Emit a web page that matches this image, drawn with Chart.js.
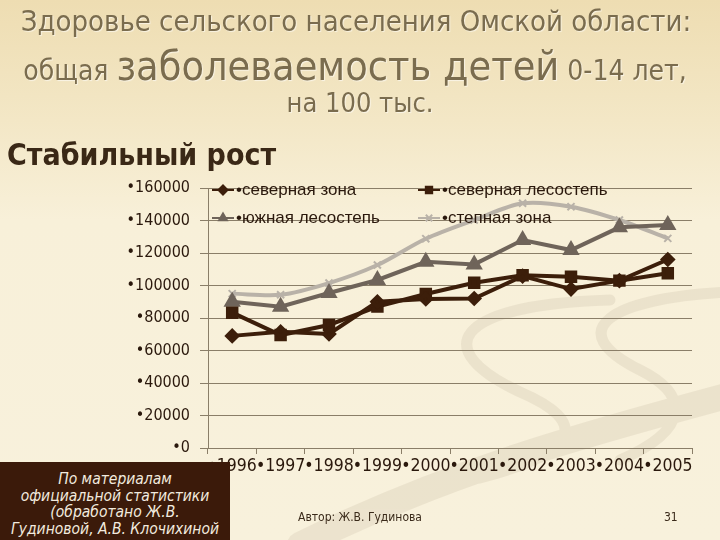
<!DOCTYPE html>
<html>
<head>
<meta charset="utf-8">
<script src="https://cdn.jsdelivr.net/npm/chart.js@4.4.1/dist/chart.umd.min.js"></script>
<style>
  html, body { margin:0; padding:0; }
  body { width:720px; height:540px; position:relative; overflow:hidden;
         background: linear-gradient(180deg, #EEDDB2 0px, #F3E7C6 120px, #F8F0D9 220px, #F8F1DC 540px); }
  #bg { position:absolute; left:0; top:0; }
  #c { position:absolute; left:0; top:0; }
  .t { position:absolute; white-space:nowrap; font-family:"DejaVu Sans Condensed","DejaVu Sans",sans-serif; color:#7A6C4E; text-shadow:1px 1px 1px rgba(255,255,255,0.6); }
  #l1 { left:0; top:4px; font-size:29px; width:712px; text-align:center; }
  #l2 { left:0; top:42px; width:710px; text-align:center; font-size:28px; }
  #l2 .big { font-size:41px; }
  #l3 { left:0; top:87px; width:720px; text-align:center; font-size:27px; }
  #sub { position:absolute; left:7px; top:137px; font-family:"DejaVu Sans Condensed","DejaVu Sans",sans-serif; font-weight:bold; font-size:30px; color:#3A2816; white-space:nowrap; }
  #box { position:absolute; left:0; top:462px; width:230px; height:78px; background:#3B1A0A; color:#F2EADF;
         font-family:"DejaVu Sans Condensed","DejaVu Sans",sans-serif; font-style:italic; font-size:15.5px; line-height:16.5px; text-align:center; padding-top:9px; box-sizing:border-box; }
  #author { position:absolute; left:298px; top:510px; font-family:"DejaVu Sans Condensed","DejaVu Sans",sans-serif; font-size:12px; color:#3A2A1A; }
  #num { position:absolute; left:664px; top:510px; font-family:"DejaVu Sans Condensed","DejaVu Sans",sans-serif; font-size:12px; color:#3A2A1A; }
</style>
</head>
<body>
<svg id="bg" width="720" height="540" xmlns="http://www.w3.org/2000/svg">
  <g fill="none" stroke="#DDD3BC" stroke-linecap="round" opacity="0.45">
    <path d="M 300 545 C 450 470, 600 430, 730 395" stroke-width="26"/>
    <path d="M 610 300 C 450 305, 430 350, 520 392 C 590 422, 580 452, 480 478" stroke-width="11"/>
    <path d="M 730 292 C 610 298, 560 330, 640 370 C 690 395, 690 430, 620 460" stroke-width="11"/>
  </g>
</svg>
<canvas id="c" width="720" height="540"></canvas>
<div class="t" id="l1">Здоровье сельского населения Омской области:</div>
<div class="t" id="l2">общая <span class="big">заболеваемость детей</span> 0-14 лет,</div>
<div class="t" id="l3">на 100 тыс.</div>
<div id="sub">Стабильный рост</div>
<div id="box">По материалам<br>официальной статистики<br>(обработано Ж.В.<br>Гудиновой, А.В. Клочихиной</div>
<div id="author">Автор: Ж.В. Гудинова</div>
<div id="num">31</div>
<script>
const years = ['1996','1997','1998','1999','2000','2001','2002','2003','2004','2005'];
const seriesNames = ['•северная зона','•северная лесостепь','•южная лесостепь','•степная зона'];
const northZone = [69000, 71500, 70200, 90000, 91700, 92000, 105800, 97800, 103000, 116000];
const northForestSteppe = [83300, 69500, 75700, 87000, 94800, 101700, 106300, 105400, 103000, 107500];
const southForestSteppe = [90000, 87000, 95400, 103400, 114600, 113000, 128000, 121800, 135800, 137200];
const steppeZone = [95000, 94300, 101500, 112600, 128800, 140300, 150600, 148500, 140300, 129000];
const yTicks = [0, 20000, 40000, 60000, 80000, 100000, 120000, 140000, 160000];

const dark = '#3C1E0A', mid = '#6F645A', light = '#B9B2A8';

const legendPlugin = {
  id: 'customLegend',
  afterDraw(chart) {
    const ctx = chart.ctx;
    const pos = [[212, 190], [418, 190], [212, 218], [418, 218]];
    chart.data.datasets.forEach((ds, i) => {
      const [x, y] = pos[i];
      ctx.save();
      ctx.strokeStyle = ds.borderColor; ctx.lineWidth = 2;
      ctx.beginPath(); ctx.moveTo(x, y); ctx.lineTo(x + 22, y); ctx.stroke();
      ctx.fillStyle = ds.pointBackgroundColor; ctx.strokeStyle = ds.borderColor; ctx.lineWidth = 2;
      Chart.helpers.drawPoint(ctx, {pointStyle: ds.pointStyle, radius: 4.5, borderWidth: 2, rotation: 0}, x + 11, y);
      ctx.fillStyle = '#2A180C';
      ctx.font = '17px "Liberation Sans", Arial, sans-serif';
      ctx.textBaseline = 'middle';
      ctx.fillText(seriesNames[i], x + 24, y);
      ctx.restore();
    });
  }
};

new Chart(document.getElementById('c'), {
  type: 'line',
  data: {
    labels: years,
    datasets: [
      { label: seriesNames[0], data: northZone, borderColor: dark, backgroundColor: dark, pointBackgroundColor: dark, pointBorderColor: dark,
        borderWidth: 4, pointStyle: 'rectRot', pointRadius: 5, tension: 0 },
      { label: seriesNames[1], data: northForestSteppe, borderColor: dark, backgroundColor: dark, pointBackgroundColor: dark, pointBorderColor: dark,
        borderWidth: 4, pointStyle: 'rect', pointRadius: 6, tension: 0 },
      { label: seriesNames[2], data: southForestSteppe, borderColor: mid, backgroundColor: mid, pointBackgroundColor: mid, pointBorderColor: mid,
        borderWidth: 4, pointStyle: 'triangle', pointRadius: 6, tension: 0 },
      { label: seriesNames[3], data: steppeZone, borderColor: light, backgroundColor: light, pointBackgroundColor: light, pointBorderColor: light,
        borderWidth: 4, pointStyle: 'crossRot', pointRadius: 5, pointBorderWidth: 2, tension: 0.3 }
    ]
  },
  options: {
    responsive: false,
    animation: false,
    layout: { padding: { left: 0, right: 28, top: 188, bottom: 0 } },
    plugins: { legend: { display: false }, tooltip: { enabled: false } },
    scales: {
      x: {
        offset: true,
        afterFit(s) { s.height = 92; },
        grid: { offset: true, drawOnChartArea: false, drawTicks: true, tickLength: 6, color: '#8A7E68' },
        border: { color: '#8A7E68', width: 1 },
        ticks: { padding: 2, color: '#2A180C', font: { family: '"DejaVu Sans Condensed","DejaVu Sans"', size: 17.5 },
                 callback(v, i) { return '•' + years[i]; }, maxRotation: 0, autoSkip: false }
      },
      y: {
        min: 0, max: 160000,
        afterFit(s) { s.width = 208; },
        afterBuildTicks(s) { s.ticks = yTicks.map(v => ({ value: v })); },
        grid: { color: '#8A7E68', lineWidth: 1, tickLength: 8 },
        border: { color: '#8A7E68', width: 1 },
        ticks: { padding: 10, color: '#2A180C', font: { family: '"DejaVu Sans Condensed","DejaVu Sans"', size: 16 },
                 callback(v) { return '•' + v; } }
      }
    }
  },
  plugins: [legendPlugin]
});
</script>
</body>
</html>
